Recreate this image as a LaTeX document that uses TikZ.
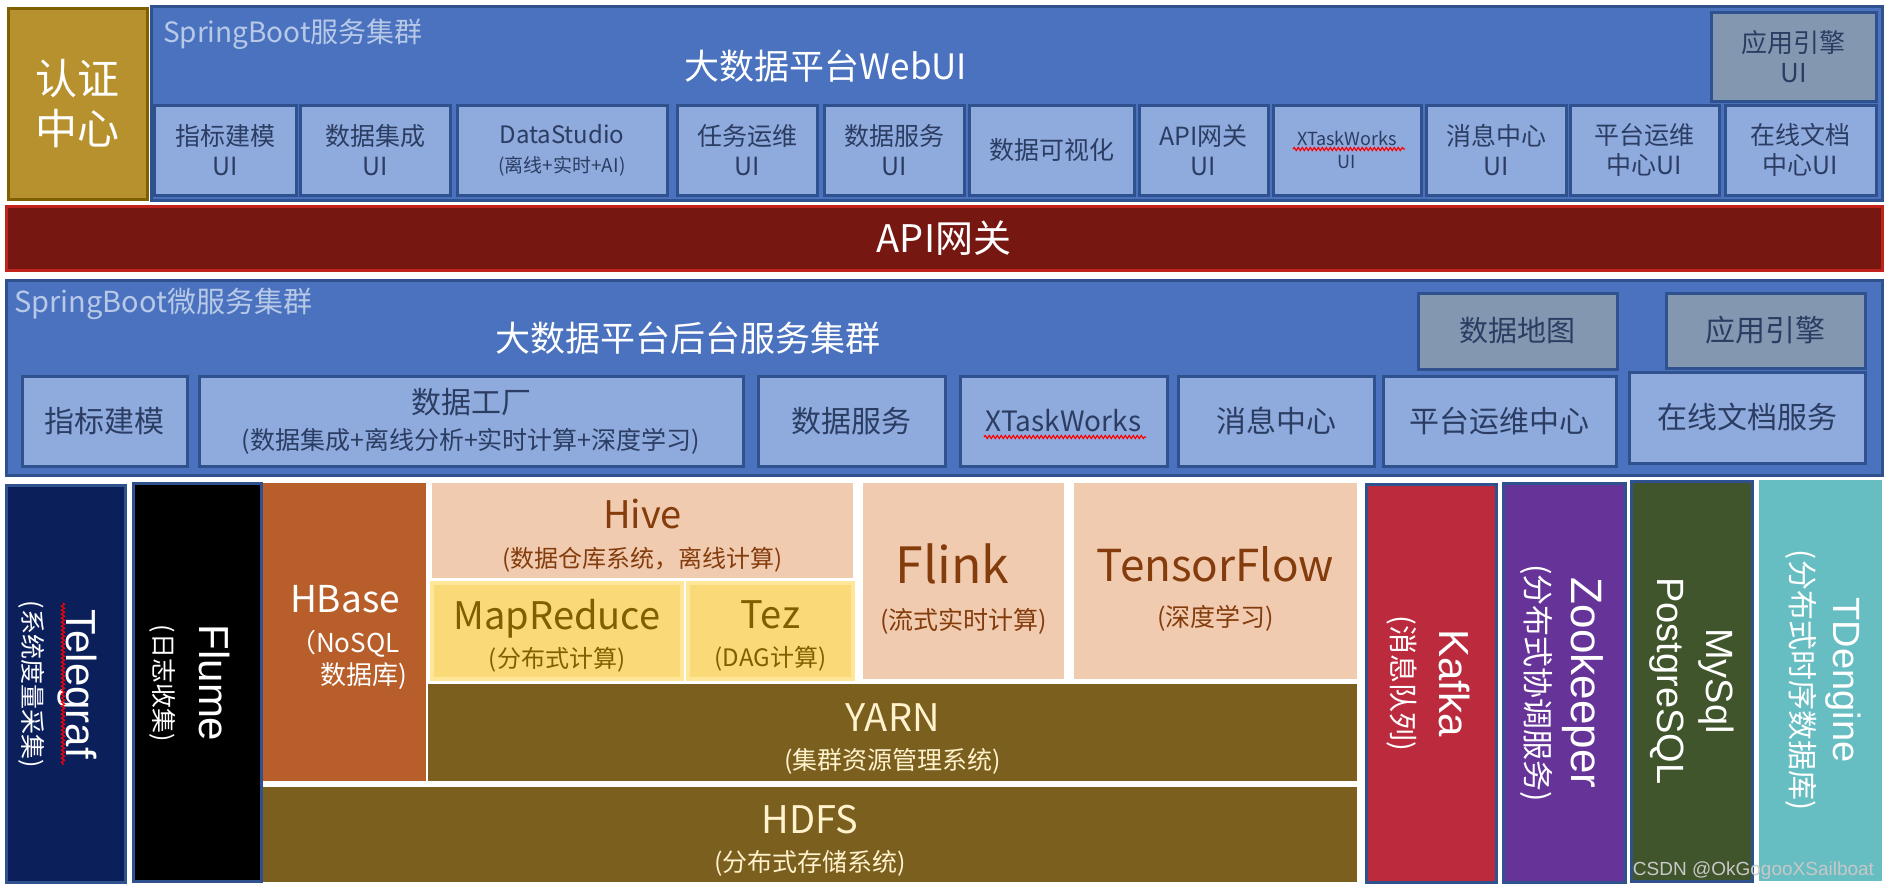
\documentclass[tikz,border=0pt]{standalone}
\usepackage{fontspec}
\setmainfont{Noto Sans CJK SC}
\newfontfamily\latf{Liberation Sans}
\usetikzlibrary{decorations.pathmorphing}
\definecolor{clblue}{HTML}{4A72BF}
\definecolor{bordb}{HTML}{2F528F}
\definecolor{ltblue}{HTML}{8FAADC}
\definecolor{grayb}{HTML}{8497B0}
\definecolor{dtxt}{HTML}{2B3D63}
\definecolor{lbltxt}{HTML}{B8C9E8}
\definecolor{goldf}{HTML}{B8912F}
\definecolor{goldb}{HTML}{7F6000}
\definecolor{apif}{HTML}{761711}
\definecolor{apib}{HTML}{C0221C}
\definecolor{peach}{HTML}{F1CBB0}
\definecolor{cbrown}{HTML}{843C0C}
\definecolor{ylw}{HTML}{F9D978}
\definecolor{ylwb}{HTML}{FFE699}
\definecolor{olivet}{HTML}{7F6000}
\definecolor{olivef}{HTML}{7A5F1E}
\definecolor{cream}{HTML}{FFF2CC}
\definecolor{hbasef}{HTML}{B85E2A}
\definecolor{navyf}{HTML}{0B1F5A}
\definecolor{kafkaf}{HTML}{BC2A3D}
\definecolor{zoof}{HTML}{663399}
\definecolor{mysqlf}{HTML}{40552B}
\definecolor{tdengf}{HTML}{66BDC2}
\definecolor{wmc}{HTML}{C8C8C8}
\newcommand\myfs[1]{\fontsize{#1}{#1}\selectfont}
\newcommand\mybox[6]{\node[#1,minimum width={(#5)-(#3)},minimum height={(#6)-(#4)}] (#2) at ({((#3)+(#5))/2},{((#4)+(#6))/2})}
\tikzset{
 base/.style={rectangle, inner sep=0pt, outer sep=0pt, align=center},
 cl/.style={base, draw=bordb, fill=clblue, line width=3pt},
 lb/.style={base, draw=bordb, fill=ltblue, line width=3pt, text=dtxt, font=\fontsize{25}{30}\selectfont},
 lb2/.style={lb, font=\fontsize{30}{36}\selectfont},
 gb/.style={lb, fill=grayb},
 gb2/.style={lb2, fill=grayb},
 lbl/.style={base, text=lbltxt, font=\fontsize{28}{32}\selectfont},
 ttl/.style={base, text=white, font=\fontsize{35}{40}\selectfont},
 hd/.style={base, fill=peach},
 hdt/.style={base, text=cbrown, font=\fontsize{24}{39}\selectfont},
 yl/.style={base, fill=ylw, draw=ylwb, line width=4pt},
 ylt/.style={base, text=olivet, font=\fontsize{24}{38}\selectfont},
 ol/.style={base, fill=olivef},
 olt/.style={base, text=cream, font=\fontsize{25}{38}\selectfont},
 vt/.style={base, draw=bordb, line width=3pt},
 vtxt/.style={base, text=white, rotate=-90},
 wave/.style={draw=red, line width=1.2pt, decorate, decoration={snake, amplitude=1.5pt, segment length=4pt}},
}
\begin{document}
\begin{tikzpicture}[x=1pt,y=-1pt]
\fill[white] (0,0) rectangle (1892,894);
\useasboundingbox (0,0) rectangle (1892,894);
% auth
\mybox{base, fill=goldf, draw=goldb, line width=3pt, text=white, font=\fontsize{42}{50}\selectfont}{auth}{8}{8}{147}{199}{认证\\中心};
% web ui cluster
\mybox{cl}{webcl}{151}{6}{1882}{200}{};
\node[lbl, anchor=west] (webcllab) at (163,34) {SpringBoot服务集群};
\node[ttl] (webclttl) at (826,66) {大数据平台WebUI};
\mybox{gb, font=\fontsize{26}{30}\selectfont}{engui}{1711}{12}{1876}{101}{应用引擎\\UI};
\mybox{lb}{ui1}{154}{105}{296}{195}{指标建模\\UI};
\mybox{lb}{ui2}{300}{105}{450}{195}{数据集成\\UI};
\mybox{lb, font=\fontsize{24}{29}\selectfont}{ui3}{457}{105}{667}{195}{DataStudio\\{\myfs{19}(离线+实时+AI)}};
\mybox{lb}{ui4}{677}{105}{817}{195}{任务运维\\UI};
\mybox{lb}{ui5}{824}{105}{964}{195}{数据服务\\UI};
\mybox{lb}{ui6}{969}{105}{1134}{195}{数据可视化};
\mybox{lb}{ui7}{1139}{105}{1268}{195}{API网关\\UI};
\mybox{lb, font=\fontsize{18}{23}\selectfont}{ui8}{1273}{105}{1421}{195}{XTaskWorks\\UI};
\mybox{lb}{ui9}{1426}{105}{1566}{195}{消息中心\\UI};
\mybox{lb}{ui10}{1570}{105}{1719}{195}{平台运维\\中心UI};
\mybox{lb}{ui11}{1725}{105}{1876}{195}{在线文档\\中心UI};
% api gateway
\mybox{base, fill=apif, draw=apib, line width=3pt, text=white, font=\fontsize{38}{40}\selectfont}{api}{6}{206}{1882}{270}{API网关};
% backend cluster
\mybox{cl}{becl}{6}{280}{1882}{475}{};
\node[lbl, font=\fontsize{29}{32}\selectfont, anchor=west] (becllab) at (14,304) {SpringBoot微服务集群};
\node[ttl] (beclttl) at (688,338) {大数据平台后台服务集群};
\mybox{gb2, font=\fontsize{29}{34}\selectfont}{dmap}{1418}{293}{1617}{369}{数据地图};
\mybox{gb2}{eng}{1666}{293}{1865}{368}{应用引擎};
\mybox{lb2}{be1}{22}{376}{187}{466}{指标建模};
\mybox{lb2}{be2}{199}{376}{743}{466}{数据工厂\\{\myfs{25}(数据集成+离线分析+实时计算+深度学习)}};
\mybox{lb2}{be3}{758}{376}{945}{466}{数据服务};
\mybox{lb2, font=\fontsize{28}{34}\selectfont}{be4}{960}{376}{1167}{466}{XTaskWorks};
\mybox{lb2}{be5}{1178}{376}{1374}{466}{消息中心};
\mybox{lb2}{be6}{1383}{376}{1616}{466}{平台运维中心};
\mybox{lb2}{be7}{1629}{372}{1865}{463}{在线文档服务};
% bottom stack
\mybox{vt, fill=navyf}{tele}{6}{485}{125}{882}{};
\node[vtxt, font=\fontsize{25}{43}\selectfont] (telet) at (58,684) {{\latf\myfs{42}Telegraf}\\(系统度量采集)};
\mybox{vt, fill=black}{flume}{133}{483}{261}{881}{};
\node[vtxt, font=\fontsize{25}{45}\selectfont] (flumet) at (190,683) {{\latf\myfs{42}Flume}\\(日志收集)};
\mybox{base, fill=hbasef}{hbase}{263}{483}{426}{781}{};
\node[base, text=white, align=left, anchor=west, font=\fontsize{26}{32}\selectfont] (hbaset) at (290,637) {{\myfs{37}HBase}\\[8pt]（NoSQL\\\hspace*{30pt}数据库)};
\mybox{hd}{hive}{432}{483}{853}{578}{};
\node[hdt] (hivet) at ([yshift=-5pt]hive.center) {{\myfs{38}Hive}\\(数据仓库系统，离线计算)};
\mybox{yl}{mr}{432}{583}{682}{679}{};
\node[ylt] (mrt) at ([yshift=-5pt]mr.center) {{\myfs{38}MapReduce}\\(分布式计算)};
\mybox{yl}{tez}{688}{583}{853}{679}{};
\node[ylt] (tezt) at ([yshift=-5pt]tez.center) {{\myfs{38}Tez}\\(DAG计算)};
\mybox{hd}{flink}{863}{483}{1064}{679}{};
\node[hdt, font=\fontsize{25}{46}\selectfont] (flinkt) at ([yshift=-8pt]flink.center) {{\myfs{50}Flink\hspace*{22pt}}\\(流式实时计算)};
\mybox{hd}{tf}{1074}{483}{1357}{679}{};
\node[hdt, font=\fontsize{25}{45}\selectfont] (tft) at ([yshift=-8pt]tf.center) {{\myfs{44}TensorFlow}\\(深度学习)};
\mybox{ol}{yarn}{428}{684}{1357}{781}{};
\node[olt] (yarnt) at ([yshift=-7pt]yarn.center) {{\myfs{38}YARN}\\(集群资源管理系统)};
\mybox{ol}{hdfs}{263}{787}{1357}{882}{};
\node[olt] (hdfst) at ([yshift=-6pt]hdfs.center) {{\myfs{38}HDFS}\\(分布式存储系统)};
\mybox{vt, fill=kafkaf}{kafka}{1366}{484}{1496}{882}{};
\node[vtxt, font=\fontsize{29}{47}\selectfont] (kafkat) at (1428,683) {{\latf\myfs{42}Kafka}\\(消息队列)};
\mybox{vt, fill=zoof}{zk}{1503}{483}{1625}{882}{};
\node[vtxt, font=\fontsize{31}{45}\selectfont] (zkt) at (1562,683) {{\latf\myfs{44}Zookeeper}\\(分布式协调服务)};
\mybox{vt, fill=mysqlf}{db}{1631}{481}{1752}{881}{};
\node[vtxt, font=\latf\fontsize{38}{49}\selectfont] (dbt) at (1692,681) {MySql\\PostgreSQL};
\mybox{base, fill=tdengf}{td}{1759}{480}{1882}{881}{};
\node[vtxt, font=\fontsize{30}{42}\selectfont] (tdt) at (1823,680) {{\latf\myfs{38}TDengine}\\(分布式时序数据库)};
% spell-check waves
\draw[wave] (1293,149) -- (1405,149);
\draw[wave] (984,437) -- (1146,437);
\draw[wave] (63,603) -- (63,765);
% watermark
\node[base, anchor=east, text=wmc, font=\latf\fontsize{19}{22}\selectfont] (wm) at (1874,871) {CSDN @OkGogooXSailboat};
\end{tikzpicture}
\end{document}
